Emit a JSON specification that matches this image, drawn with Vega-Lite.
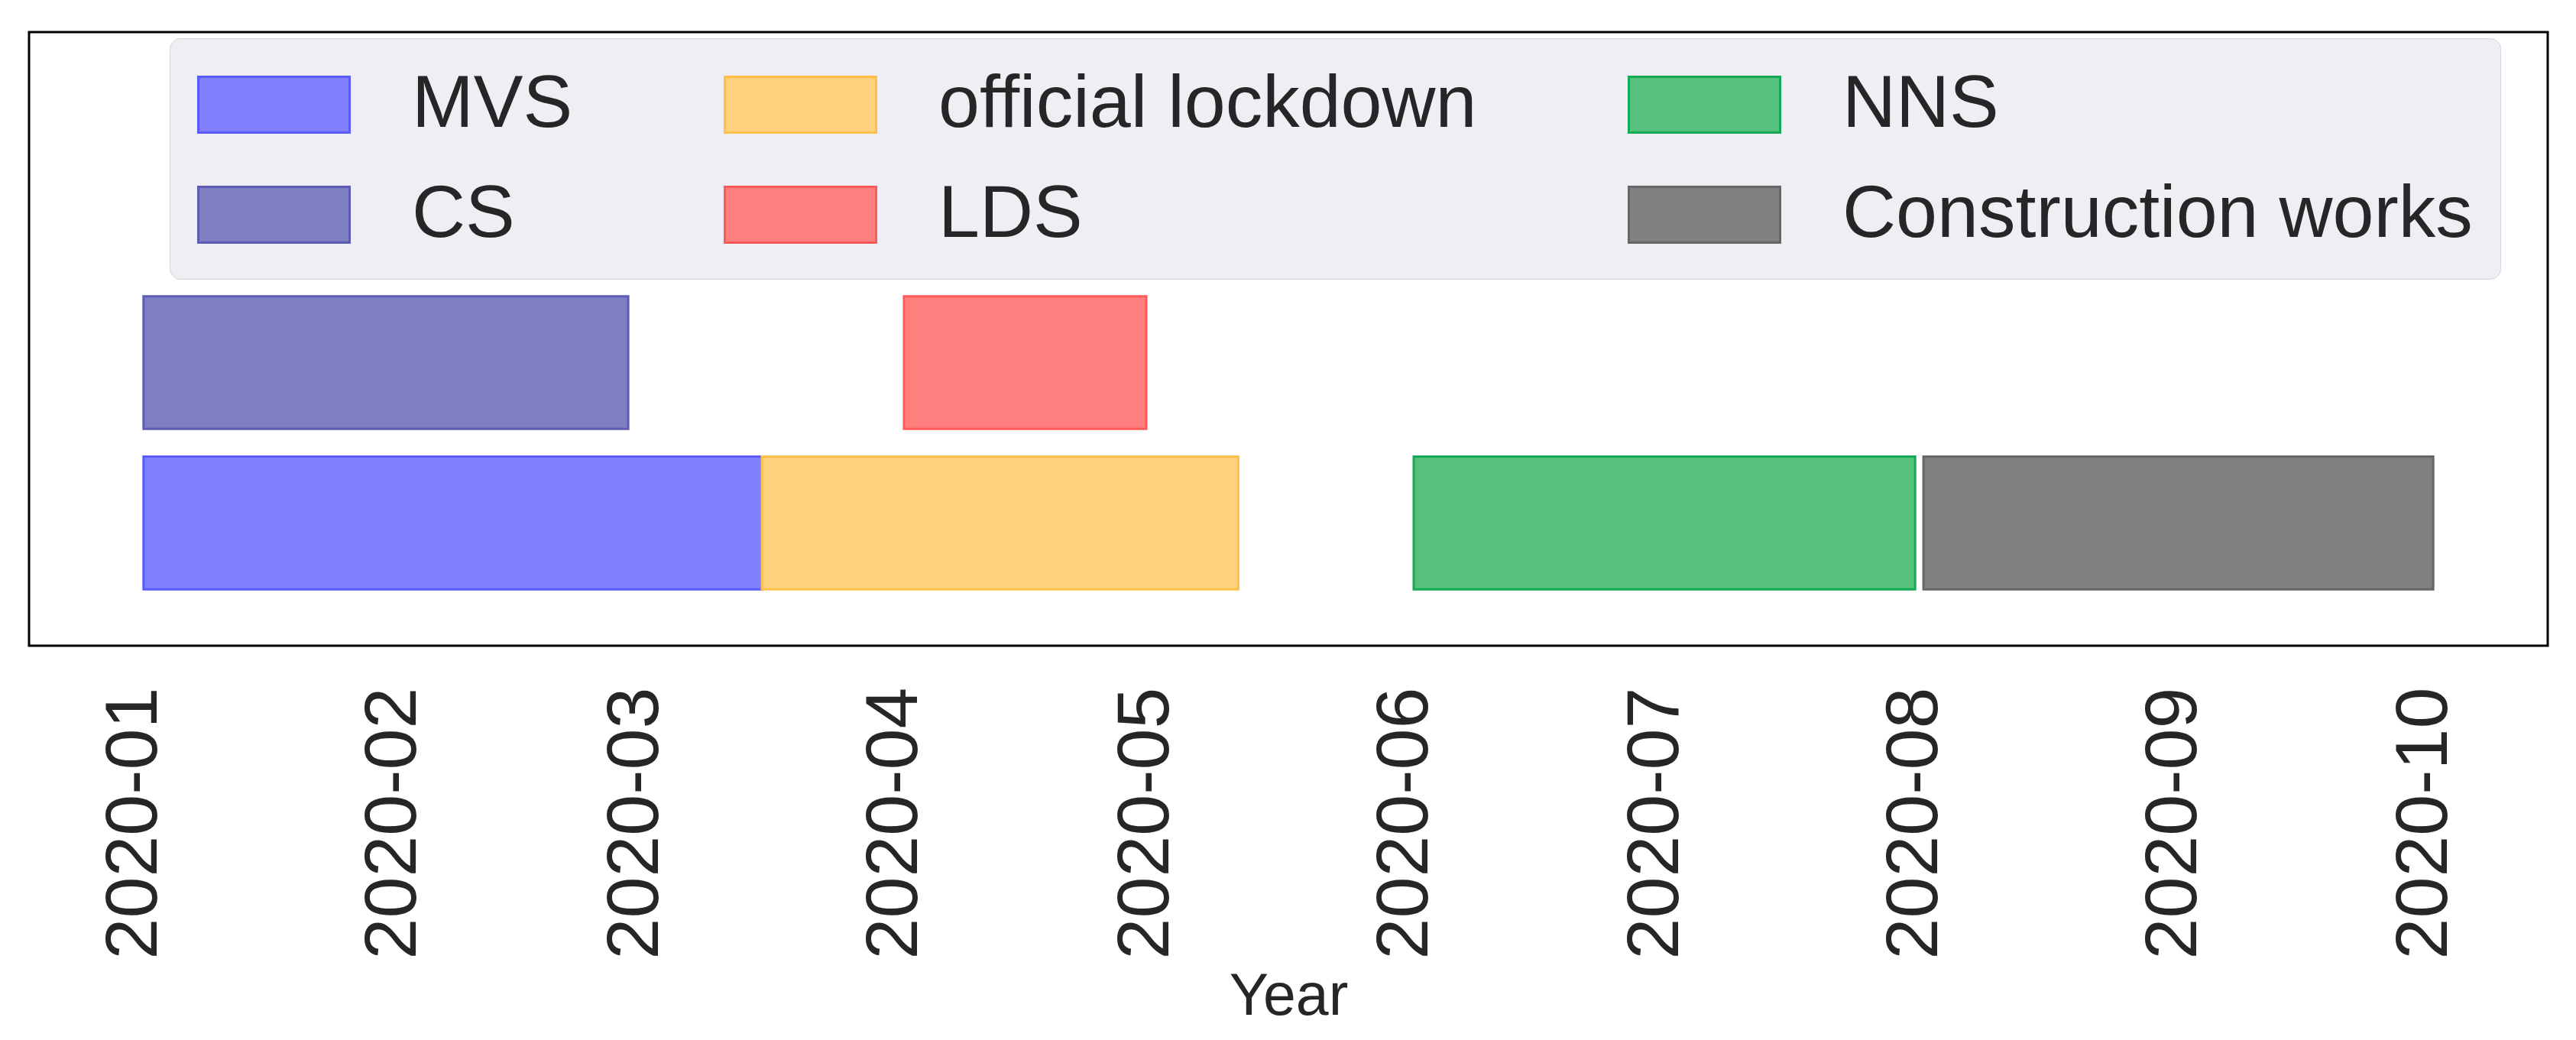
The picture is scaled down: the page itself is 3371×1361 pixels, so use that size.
{
  "$schema": "https://vega.github.io/schema/vega-lite/v6.json",
  "width": 3296,
  "height": 803,
  "autosize": {"type": "none"},
  "padding": {"left": 38, "top": 42, "right": 37, "bottom": 516},
  "background": "white",
  "config": {
    "view": {"stroke": "#000000", "strokeWidth": 3},
    "font": "Liberation Sans"
  },
  "data": {
    "values": [
      {"activity": "MVS", "track": "lower", "start": "2020-01-01", "end": "2020-03-15"},
      {"activity": "official lockdown", "track": "lower", "start": "2020-03-15", "end": "2020-05-11"},
      {"activity": "NNS", "track": "lower", "start": "2020-06-01", "end": "2020-07-31"},
      {"activity": "Construction works", "track": "lower", "start": "2020-08-01", "end": "2020-10-01"},
      {"activity": "CS", "track": "upper", "start": "2020-01-01", "end": "2020-02-28"},
      {"activity": "LDS", "track": "upper", "start": "2020-04-01", "end": "2020-04-30"}
    ]
  },
  "mark": {"type": "bar", "strokeWidth": 3, "opacity": 1},
  "encoding": {
    "x": {
      "field": "start",
      "type": "temporal",
      "scale": {
        "type": "utc",
        "domain": [
          {"year": 2019, "month": 12, "date": 18, "hours": 7, "minutes": 12, "utc": true},
          {"year": 2020, "month": 10, "date": 14, "hours": 16, "minutes": 48, "utc": true}
        ]
      },
      "axis": {
        "title": "Year",
        "format": "%Y-%m",
        "tickCount": {"interval": "month", "step": 1},
        "labelAngle": 270,
        "labelFontSize": 97,
        "labelColor": "#262626",
        "labelPadding": 54,
        "labelOffset": -12,
        "labelLimit": 2000,
        "labelOverlap": false,
        "labelFlush": false,
        "ticks": false,
        "domain": false,
        "grid": false,
        "titleFontSize": 77,
        "titleFontWeight": "normal",
        "titleColor": "#262626",
        "titleBaseline": "alphabetic",
        "titleY": 482
      }
    },
    "x2": {"field": "end"},
    "y": {
      "field": "track",
      "type": "nominal",
      "scale": {"domain": ["upper", "lower"], "paddingInner": 0.173, "paddingOuter": 1.074, "align": 0.824},
      "axis": null
    },
    "fill": {
      "field": "activity",
      "type": "nominal",
      "scale": {
        "domain": ["MVS", "CS", "official lockdown", "LDS", "NNS", "Construction works"],
        "range": ["#8080ff", "#7f7fc4", "#ffd07d", "#ff7f7f", "#56c17c", "#808080"]
      },
      "legend": {
        "orient": "none",
        "legendX": 184,
        "legendY": 8,
        "columns": 3,
        "title": null,
        "symbolType": "M-1,-0.738L3,-0.738L3,0.738L-1,0.738Z",
        "symbolSize": 9801,
        "symbolStrokeWidth": 3,
        "labelFontSize": 97,
        "labelFont": "Liberation Sans",
        "labelColor": "#262626",
        "labelOffset": 179,
        "labelLimit": 2000,
        "columnPadding": 192,
        "rowPadding": 45,
        "padding": 36,
        "fillColor": "#eeeef4",
        "strokeColor": "#d5d5d5",
        "cornerRadius": 14
      }
    },
    "stroke": {
      "field": "activity",
      "type": "nominal",
      "scale": {
        "domain": ["MVS", "CS", "official lockdown", "LDS", "NNS", "Construction works"],
        "range": ["#5a5aff", "#5c5cb4", "#ffc04a", "#ff5a5a", "#12aa55", "#666666"]
      }
    }
  }
}
